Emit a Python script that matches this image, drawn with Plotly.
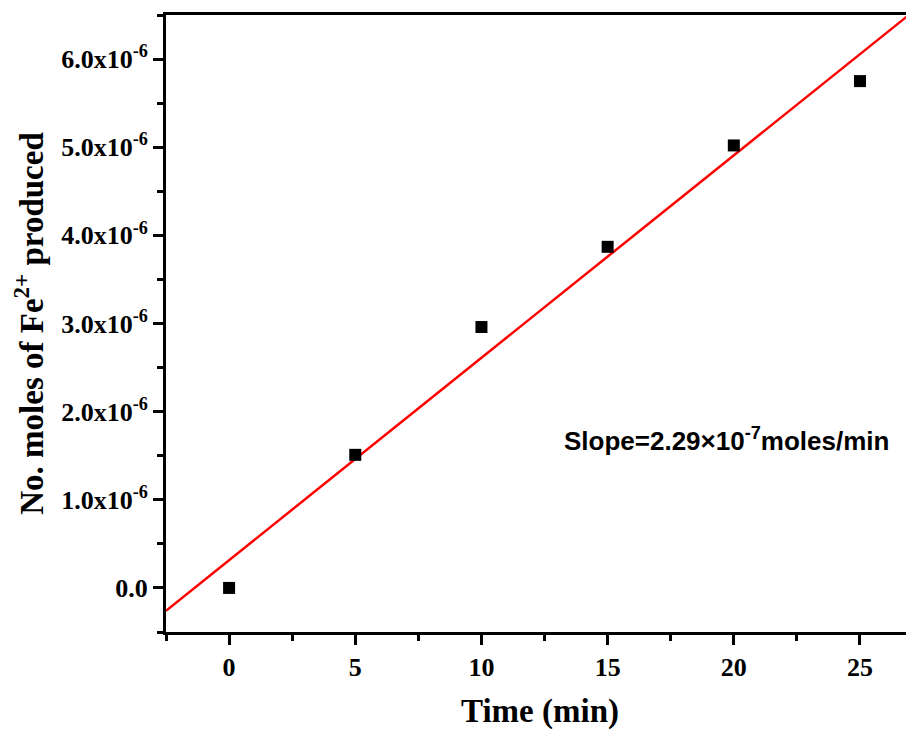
import numpy as np
import plotly.graph_objects as go

time_min = [0, 5, 10, 15, 20, 25]
moles_fe2 = [0.0, 1.51e-6, 2.96e-6, 3.87e-6, 5.02e-6, 5.75e-6]

x_major = [0, 5, 10, 15, 20, 25]
x_minor = [-2.5, 2.5, 7.5, 12.5, 17.5, 22.5, 27.5]
y_major = [0, 1e-6, 2e-6, 3e-6, 4e-6, 5e-6, 6e-6]
y_ticktext = ["0.0", "1.0x10<sup>-6</sup>", "2.0x10<sup>-6</sup>", "3.0x10<sup>-6</sup>",
              "4.0x10<sup>-6</sup>", "5.0x10<sup>-6</sup>", "6.0x10<sup>-6</sup>"]
y_minor = [-0.5e-6, 0.5e-6, 1.5e-6, 2.5e-6, 3.5e-6, 4.5e-6, 5.5e-6, 6.5e-6]

slope, intercept = np.polyfit(time_min, moles_fe2, 1)
fit_x = [-2.5, 27.5]
fit_y = [slope * v + intercept for v in fit_x]

fig = go.Figure()
fig.add_trace(go.Scatter(x=fit_x, y=fit_y, mode="lines",
                         line=dict(color="#ff0000", width=2.5), showlegend=False))
fig.add_trace(go.Scatter(x=time_min, y=moles_fe2, mode="markers",
                         marker=dict(symbol="square", size=12, color="black"),
                         showlegend=False))

serif = "Liberation Serif"
fig.add_annotation(x=13.2, y=1.68e-6, xref="x", yref="y", xanchor="left", yanchor="middle",
                   text="<b>Slope=2.29×10<sup>-7</sup>moles/min</b>", showarrow=False,
                   font=dict(family="Liberation Sans", size=26, color="black"))

# page body has an 8px margin, so the figure is sized/offset to compensate
fig.update_layout(
    width=906, height=722,
    margin=dict(l=158, r=0, t=7, b=98),
    paper_bgcolor="white", plot_bgcolor="white",
    font=dict(family=serif, color="black"),
)
fig.update_xaxes(
    range=[-2.5, 27.14], showgrid=False, zeroline=False,
    showline=True, linecolor="black", linewidth=3, mirror=True,
    tickmode="array", tickvals=x_major, ticks="outside", ticklen=10, tickwidth=2.5,
    tickcolor="black",
    tickfont=dict(family=serif, size=26, color="black", weight="bold"),
    minor=dict(tickmode="array", tickvals=x_minor, ticks="outside", ticklen=6,
               tickwidth=2.5, tickcolor="black"),
    title=dict(text="<b>Time (min)</b>", font=dict(family=serif, size=33, color="black"),
               standoff=19),
)
fig.update_yaxes(
    range=[-0.5e-6, 6.5e-6], showgrid=False, zeroline=False,
    showline=True, linecolor="black", linewidth=3, mirror=False,
    tickmode="array", tickvals=y_major, ticktext=y_ticktext,
    ticks="outside", ticklen=10, tickwidth=2.5, tickcolor="black",
    tickfont=dict(family=serif, size=26, color="black", weight="bold"),
    minor=dict(tickmode="array", tickvals=y_minor, ticks="outside", ticklen=6,
               tickwidth=2.5, tickcolor="black"),
    title=dict(text="<b>No. moles of Fe<sup>2+</sup> produced</b>",
               font=dict(family=serif, size=33, color="black"), standoff=8),
)

fig.write_html("out.html")
